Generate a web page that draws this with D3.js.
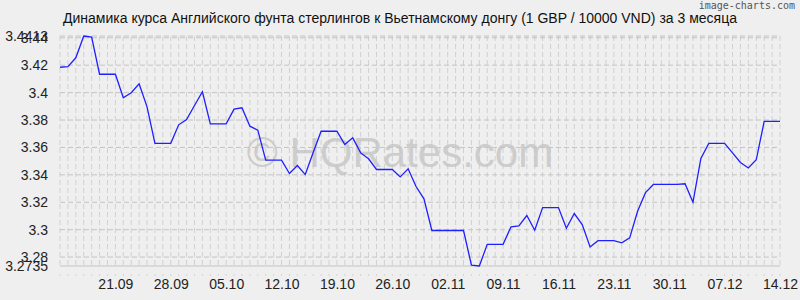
<!DOCTYPE html>
<html>
<head>
<meta charset="utf-8">
<script src="https://cdn.jsdelivr.net/npm/d3@7"></script>
<style>
  body { margin: 0; background: #efefef; }
  svg { display: block; font-family: "Liberation Sans", Arial, sans-serif; }
</style>
</head>
<body>
<div id="chart"></div>
<script>
// daily rates, 14.09 .. 14.12
var startDate = "2025-09-14";
var rates = [
  3.4185, 3.4190, 3.4254, 3.4413, 3.4405, 3.4134, 3.4134, 3.4134, 3.3962, 3.3999,
  3.4064, 3.3896, 3.3630, 3.3630, 3.3630, 3.3765, 3.3804, 3.3906, 3.4006, 3.3772,
  3.3772, 3.3772, 3.3879, 3.3889, 3.3755, 3.3726, 3.3507, 3.3507, 3.3507, 3.3410,
  3.3468, 3.3402, 3.3563, 3.3718, 3.3718, 3.3718, 3.3621, 3.3670, 3.3560, 3.3517,
  3.3439, 3.3439, 3.3439, 3.3385, 3.3444, 3.3315, 3.3225, 3.2994, 3.2994, 3.2994,
  3.2994, 3.2994, 3.2742, 3.2735, 3.2893, 3.2893, 3.2893, 3.3020, 3.3028, 3.3103,
  3.2996, 3.3161, 3.3161, 3.3161, 3.3010, 3.3118, 3.3037, 3.2874, 3.2920, 3.2920,
  3.2920, 3.2904, 3.2940, 3.3134, 3.3270, 3.3330, 3.3330, 3.3330, 3.3330, 3.3335,
  3.3200, 3.3520, 3.3630, 3.3630, 3.3630, 3.3560, 3.3490, 3.3450, 3.3510, 3.3790,
  3.3790, 3.3790
];
var yTicks = [3.2735, 3.28, 3.3, 3.32, 3.34, 3.36, 3.38, 3.4, 3.42, 3.44, 3.4413];
var xTicks = ["21.09", "28.09", "05.10", "12.10", "19.10", "26.10", "02.11", "09.11",
              "16.11", "23.11", "30.11", "07.12", "14.12"];
var title = "Динамика курса Английского фунта стерлингов к Вьетнамскому донгу (1 GBP / 10000 VND) за 3 месяца";

var width = 800, height = 300;
var margin = {top: 36, right: 20, bottom: 34, left: 60};

var parse = d3.timeParse("%Y-%m-%d");
var t0 = parse(startDate);
var data = rates.map(function(v, i) { return {date: d3.timeDay.offset(t0, i), value: v}; });

var svg = d3.select("#chart").append("svg")
    .attr("width", width)
    .attr("height", height);

svg.append("rect").attr("width", width).attr("height", height).attr("fill", "#efefef");

var x = d3.scaleTime()
    .domain(d3.extent(data, function(d) { return d.date; }))
    .range([margin.left, width - margin.right]);
var y = d3.scaleLinear()
    .domain([3.2735, 3.4413])
    .range([height - margin.bottom, margin.top]);

// vertical grid, one per day
svg.append("g")
  .selectAll("line")
  .data(data)
  .enter().append("line")
    .attr("x1", function(d) { return x(d.date); })
    .attr("x2", function(d) { return x(d.date); })
    .attr("y1", margin.top)
    .attr("y2", height - margin.bottom)
    .attr("stroke", "#d0d0d0")
    .attr("stroke-dasharray", "5,3");

// little ticks under the axis
svg.append("g")
  .selectAll("line")
  .data(data)
  .enter().append("line")
    .attr("x1", function(d) { return x(d.date); })
    .attr("x2", function(d) { return x(d.date); })
    .attr("y1", height - margin.bottom + 8)
    .attr("y2", height - margin.bottom + 10)
    .attr("stroke", "#d4d4d4");

// horizontal grid
svg.append("g")
  .selectAll("line")
  .data(yTicks)
  .enter().append("line")
    .attr("x1", margin.left)
    .attr("x2", width - margin.right)
    .attr("y1", function(d) { return y(d); })
    .attr("y2", function(d) { return y(d); })
    .attr("stroke", "#c4c4c4")
    .attr("stroke-dasharray", function(d) { return d == 3.2735 ? null : "5,3"; });

// watermark
svg.append("text")
    .attr("x", 400)
    .attr("y", 167)
    .attr("text-anchor", "middle")
    .attr("font-size", 42)
    .attr("fill", "#c4c4c4")
    .attr("fill-opacity", 0.8)
    .text("© HQRates.com");

// y axis labels
var yAxis = d3.axisLeft(y).tickValues(yTicks).tickSize(0).tickPadding(12)
    .tickFormat(function(d) { return String(d); });
var gy = svg.append("g")
    .attr("transform", "translate(" + margin.left + ",0)")
    .call(yAxis);
gy.select(".domain").remove();
gy.selectAll("text").attr("font-size", 14).attr("fill", "#222").attr("font-family", "Liberation Sans, Arial, sans-serif");

// x axis labels
var xDates = xTicks.map(function(s) {
  var p = s.split(".");
  var m = +p[1] - 1;
  return new Date(+p[1] >= 9 ? 2025 : 2026, m, +p[0]);
});
var xAxis = d3.axisBottom(x).tickValues(xDates).tickSize(0).tickPadding(13)
    .tickFormat(d3.timeFormat("%d.%m"));
var gx = svg.append("g")
    .attr("transform", "translate(0," + (height - margin.bottom) + ")")
    .call(xAxis);
gx.select(".domain").remove();
gx.selectAll("text").attr("font-size", 14).attr("fill", "#222").attr("font-family", "Liberation Sans, Arial, sans-serif");

// rate line
var line = d3.line()
    .x(function(d) { return x(d.date); })
    .y(function(d) { return y(d.value); });
svg.append("path")
    .datum(data)
    .attr("fill", "none")
    .attr("stroke", "#1f1fff")
    .attr("stroke-width", 1.3)
    .attr("d", line);

// title
svg.append("text")
    .attr("x", 400)
    .attr("y", 23)
    .attr("text-anchor", "middle")
    .attr("font-size", 14)
    .attr("fill", "#111")
    .text(title);

svg.append("text")
    .attr("x", 795)
    .attr("y", 9)
    .attr("text-anchor", "end")
    .attr("font-size", 10)
    .attr("font-family", "DejaVu Sans Mono, monospace")
    .attr("fill", "#555")
    .text("image-charts.com");
</script>
</body>
</html>
